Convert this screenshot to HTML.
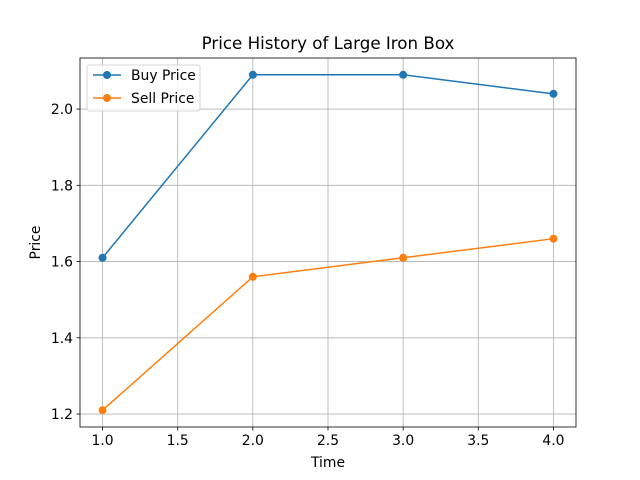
<!DOCTYPE html>
<html><head><meta charset="utf-8"><style>
body{margin:0;background:#fff;}
svg{display:block;font-family:"DejaVu Sans","Liberation Sans",sans-serif;}
</style></head><body>
<svg id="chart" width="640" height="480"></svg>
<script>
const times = [1, 2, 3, 4];
const buyPrices = [1.61, 2.09, 2.09, 2.04];
const sellPrices = [1.21, 1.56, 1.61, 1.66];
const xTicks = [1.0, 1.5, 2.0, 2.5, 3.0, 3.5, 4.0];
const yTicks = [1.2, 1.4, 1.6, 1.8, 2.0];

const svg = document.getElementById('chart');
const NS = 'http://www.w3.org/2000/svg';
const L = 80, R = 576, T = 58, B = 427;
const xmin = 0.85, xmax = 4.15, ymin = 1.166, ymax = 2.134;
const xs = v => L + (v - xmin) / (xmax - xmin) * (R - L);
const ys = v => B - (v - ymin) / (ymax - ymin) * (B - T);
function mk(tag, attrs, parent) {
  const e = document.createElementNS(NS, tag);
  for (const k in attrs) e.setAttribute(k, attrs[k]);
  (parent || svg).appendChild(e);
  return e;
}
xTicks.forEach(v => {
  const x = xs(v);
  const g = mk('line', {x1: x, x2: x, y1: T, y2: B, stroke: '#b0b0b0', 'stroke-width': 0.8});
  
  
  mk('line', {x1: x, x2: x, y1: B, y2: B + 3.5, stroke: '#000', 'stroke-width': 0.8});
  const t = mk('text', {x: x, y: B + 18, 'text-anchor': 'middle', 'font-size': 13.9});
  t.textContent = v.toFixed(1);
  
  
});
yTicks.forEach(v => {
  const y = ys(v);
  const g = mk('line', {x1: L, x2: R, y1: y, y2: y, stroke: '#b0b0b0', 'stroke-width': 0.8});
  
  
  mk('line', {x1: L - 3.5, x2: L, y1: y, y2: y, stroke: '#000', 'stroke-width': 0.8});
  const t = mk('text', {x: L - 7, y: y + 5, 'text-anchor': 'end', 'font-size': 13.9});
  t.textContent = v.toFixed(1);
  
  
});
function series(vals, color, name) {
  const pts = times.map((t, i) => xs(t) + ',' + ys(vals[i])).join(' ');
  const pl = mk('polyline', {points: pts, fill: 'none', stroke: color, 'stroke-width': 1.5});
  
  
  times.forEach((t, i) => {
    const c = mk('circle', {cx: xs(t), cy: ys(vals[i]), r: 4, fill: color});
    
    
  });
}
series(buyPrices, '#1f77b4', 'buy-price');
series(sellPrices, '#ff7f0e', 'sell-price');
const fr = mk('rect', {x: L, y: T, width: R - L, height: B - T, fill: 'none', stroke: '#000', 'stroke-width': 0.8});


const title = mk('text', {x: (L + R) / 2, y: 49, 'text-anchor': 'middle', 'font-size': 16.7});
title.textContent = 'Price History of Large Iron Box';


const xl = mk('text', {x: (L + R) / 2, y: 467, 'text-anchor': 'middle', 'font-size': 13.9});
xl.textContent = 'Time';


const yl = mk('text', {x: 0, y: 0, 'text-anchor': 'middle', 'font-size': 13.9, transform: 'translate(40,' + (T + B) / 2 + ') rotate(-90)'});
yl.textContent = 'Price';


const lg = mk('g', {});


mk('rect', {x: 87, y: 65, width: 113, height: 46, rx: 2, fill: '#fff', 'fill-opacity': 0.8, stroke: '#ccc', 'stroke-width': 0.8}, lg);
[['Buy Price', '#1f77b4', 75], ['Sell Price', '#ff7f0e', 98]].forEach(([lab, col, y]) => {
  const e = mk('g', {}, lg);
  
  
  mk('line', {x1: 93, x2: 121, y1: y, y2: y, stroke: col, 'stroke-width': 1.5}, e);
  mk('circle', {cx: 107, cy: y, r: 4, fill: col}, e);
  const t = mk('text', {x: 131, y: y + 5, 'font-size': 13.9}, e);
  t.textContent = lab;
});
</script>
</body></html>
